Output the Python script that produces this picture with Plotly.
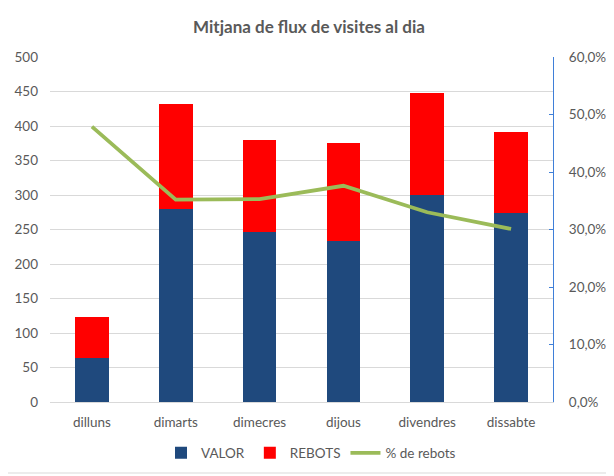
import plotly.graph_objects as go

dies = ["dilluns", "dimarts", "dimecres", "dijous", "divendres", "dissabte"]
valor = [64, 280, 246, 234, 300, 274]
rebots = [59, 152, 134, 141, 148, 118]
pct_rebots = [0.479, 0.352, 0.353, 0.376, 0.330, 0.301]

# page has an 8px body margin; compensate so the plot lands where the reference has it
OFF = 8
W, H = 614 - OFF, 476 - OFF
ML, MR, MT, MB = 50 - OFF, 61, 57 - OFF, 74
pw = W - ML - MR
ph = H - MT - MB

font_fam = "Lato, 'Liberation Sans', sans-serif"
grey = "#595959"
fs = 13.5
axis_blue = "#3F7FD8"

fig = go.Figure()
fig.add_trace(go.Bar(x=dies, y=valor, name="VALOR", marker=dict(color="#1F497D", line=dict(width=0))))
fig.add_trace(go.Bar(x=dies, y=rebots, name="REBOTS", marker=dict(color="#FF0000", line=dict(width=0))))
fig.add_trace(go.Scatter(x=dies, y=pct_rebots, name="% de rebots", yaxis="y2", mode="lines",
                         line=dict(color="#9BBB59", width=3.8)))

fig.update_layout(
    width=W, height=H,
    margin=dict(l=ML, r=MR, t=MT, b=MB, autoexpand=False),
    paper_bgcolor="white", plot_bgcolor="white",
    barmode="stack", bargap=0.6,
    separators=",.",
    font=dict(family=font_fam, size=fs, color=grey),
    title=dict(text="<b>Mitjana de flux de visites al dia</b>", x=(309 - OFF) / W, xref="container",
               xanchor="center", y=1 - (27 - OFF) / H, yref="container", yanchor="middle",
               font=dict(family=font_fam, size=17, color=grey)),
    xaxis=dict(showline=True, linecolor="#D9D9D9", linewidth=1, ticks="", ticklabelstandoff=8,
               tickfont=dict(size=fs, color=grey)),
    yaxis=dict(range=[0, 500], dtick=50, showgrid=True, gridcolor="#D9D9D9", gridwidth=1,
               zeroline=False, showline=False, ticks="", ticklabelstandoff=11,
               tickfont=dict(size=fs, color=grey)),
    yaxis2=dict(range=[0, 0.6], dtick=0.1, tickformat=".1%", overlaying="y", side="right",
                showgrid=False, zeroline=False, showline=True, linecolor=axis_blue, linewidth=1.2,
                ticks="inside", ticklen=4, tickcolor=axis_blue, tickwidth=1, ticklabelstandoff=12,
                tickfont=dict(size=fs, color=grey)),
    legend=dict(orientation="h", x=(311 - OFF) / W, xref="container", xanchor="center",
                y=1 - (453 - OFF) / H, yref="container", yanchor="middle",
                font=dict(size=fs, color=grey), traceorder="normal", itemwidth=30),
    shapes=[dict(type="rect", xref="paper", yref="paper",
                 x0=(3 - 50) / pw, x1=(611 - 50) / pw,
                 y0=-(473 - 402) / ph, y1=1 + (57 - 3) / ph,
                 line=dict(color="#D9D9D9", width=1), layer="below")],
)

fig.write_html("out.html")
